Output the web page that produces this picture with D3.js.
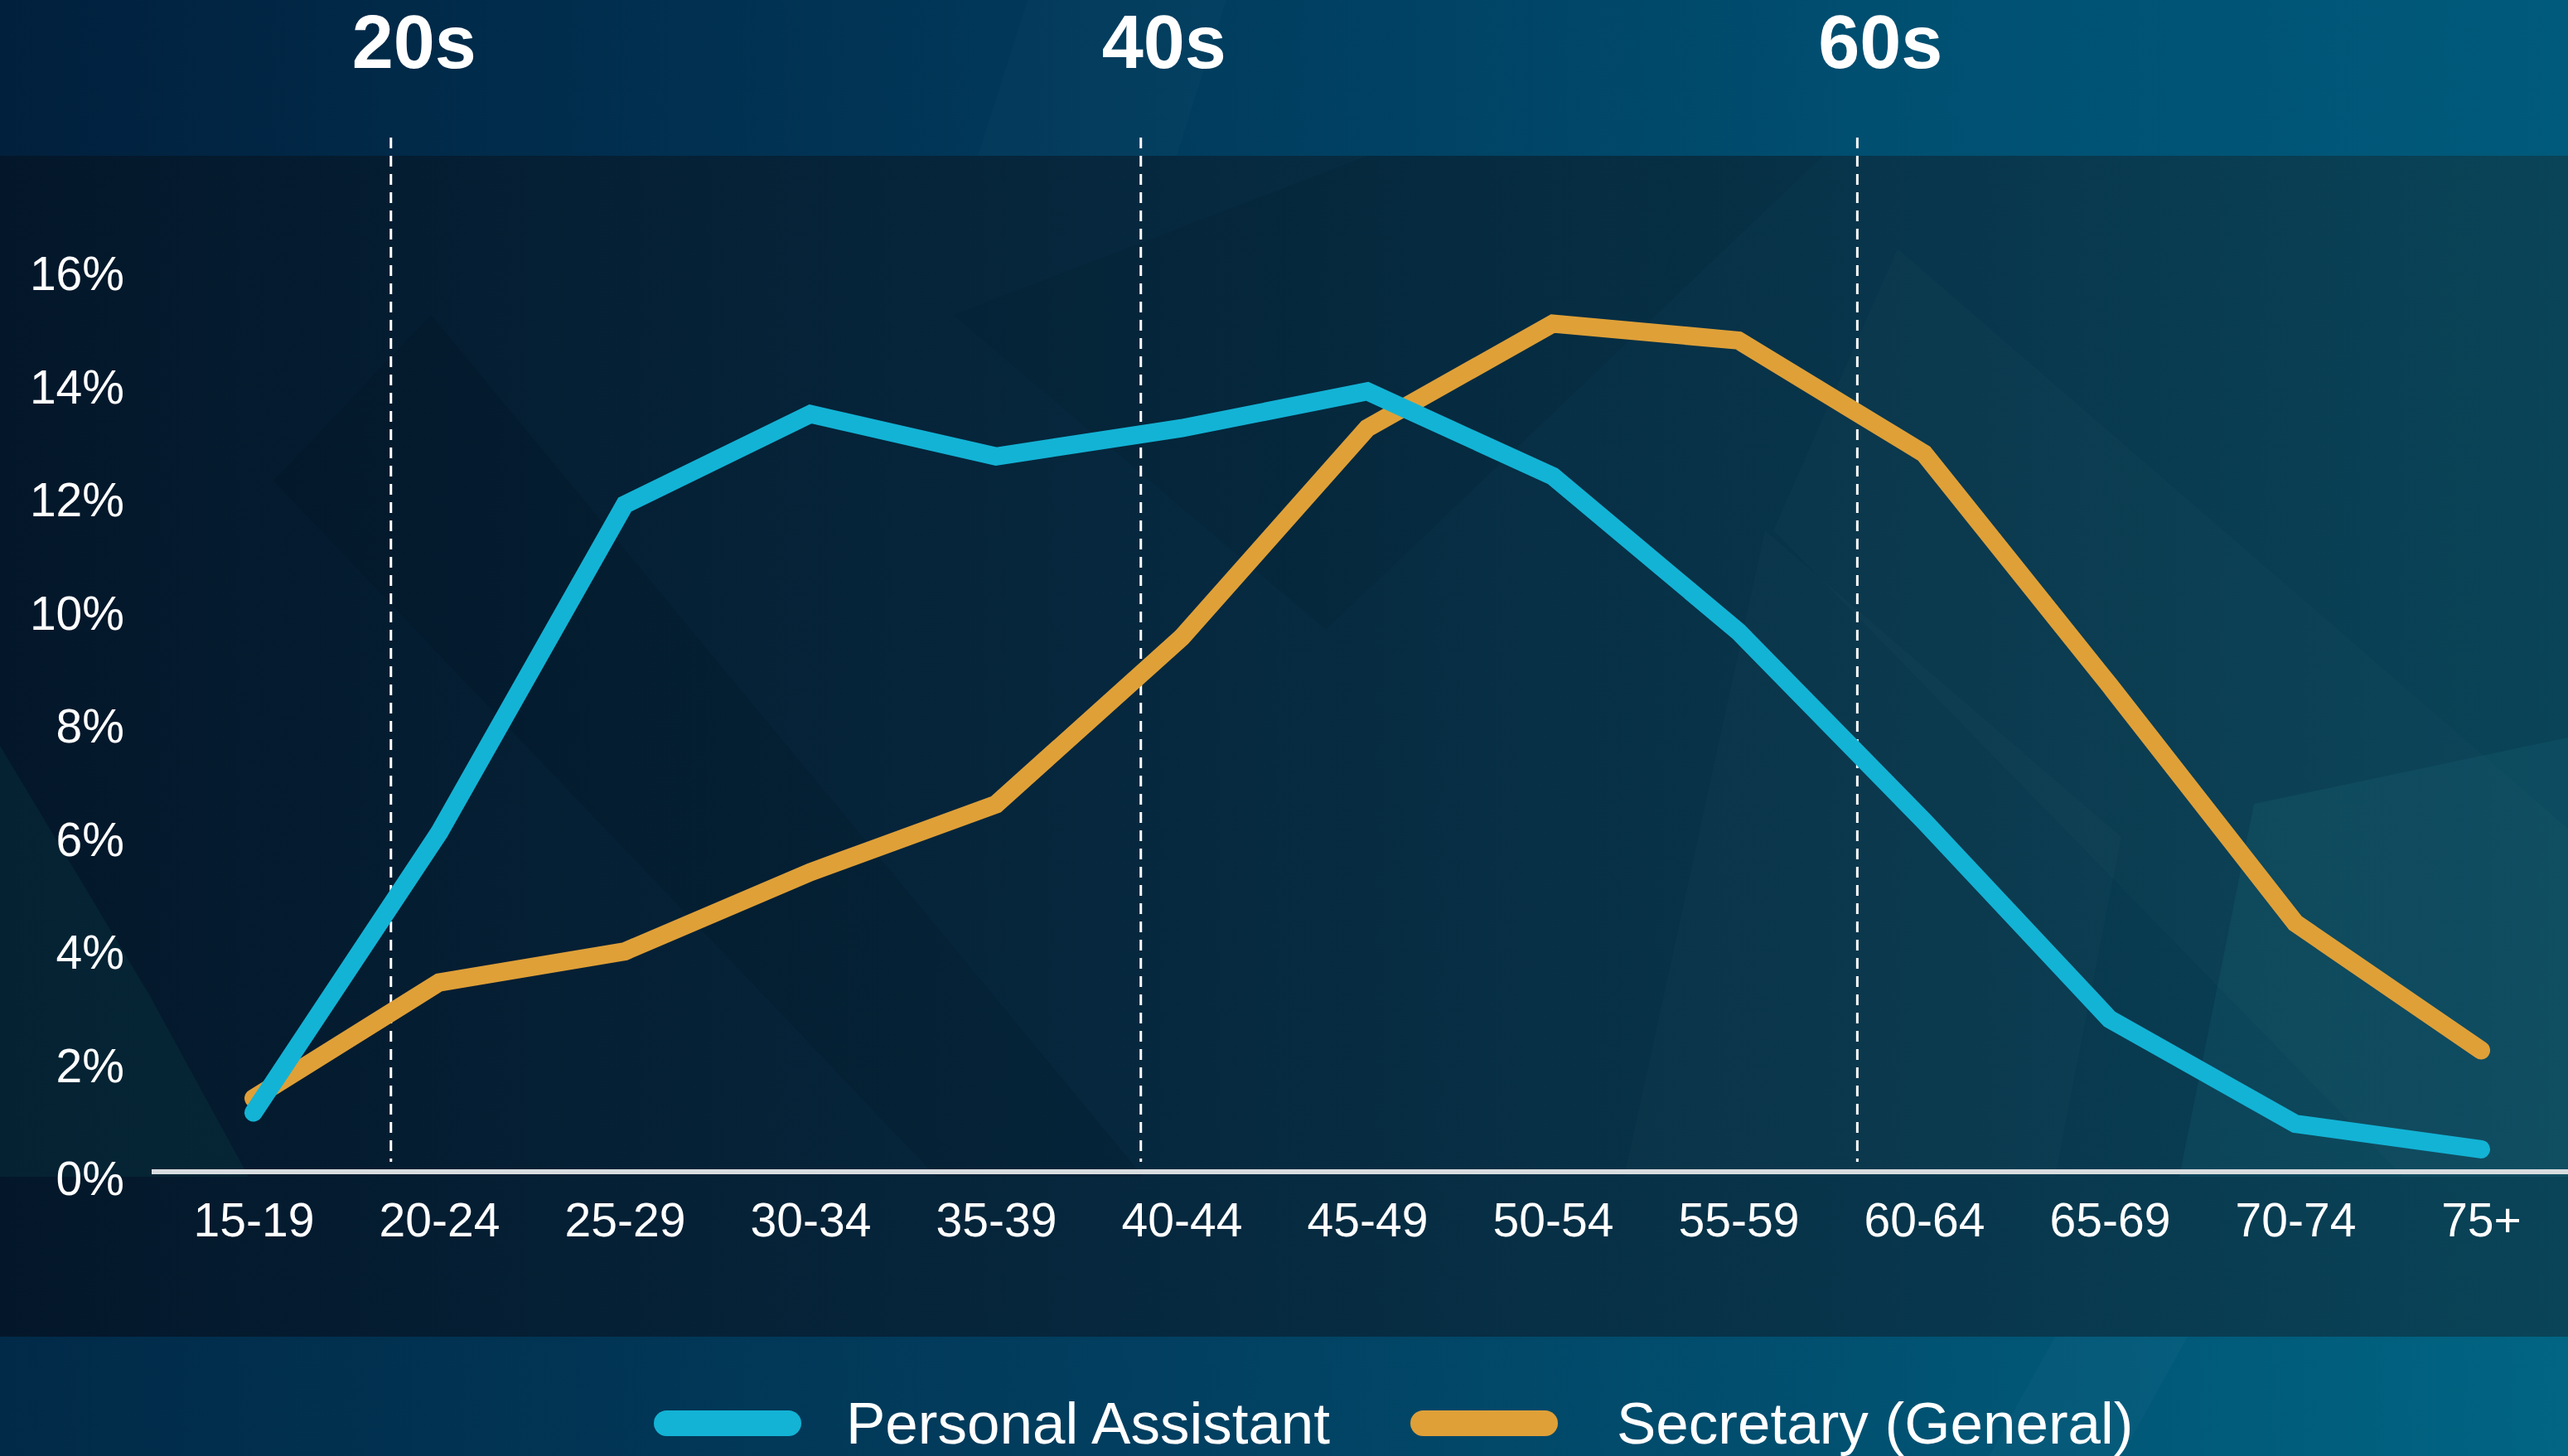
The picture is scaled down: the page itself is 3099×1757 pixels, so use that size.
<!DOCTYPE html>
<html>
<head>
<meta charset="utf-8">
<script src="https://cdn.jsdelivr.net/npm/d3@7"></script>
<style>
  html, body { margin: 0; padding: 0; background: #061a2c; overflow: hidden; }
  svg { display: block; font-family: "Liberation Sans", Arial, sans-serif; }
</style>
</head>
<body>
<svg id="chart"></svg>
<script>
// age groups on the x axis
const categories = ["15-19","20-24","25-29","30-34","35-39","40-44","45-49","50-54","55-59","60-64","65-69","70-74","75+"];
// share of workers in each age group (%)
const personalAssistant = [1.15, 6.1, 11.9, 13.5, 12.75, 13.25, 13.9, 12.4, 9.65, 6.3, 2.8, 0.95, 0.5];
const secretary = [1.4, 3.45, 4.0, 5.4, 6.6, 9.55, 13.25, 15.1, 14.8, 12.8, 8.7, 4.5, 2.25];
const seriesNames = ["Personal Assistant", "Secretary (General)"];
const yTicks = [0, 2, 4, 6, 8, 10, 12, 14, 16];
// decade markers, position given in category steps from the first group
const decadeLabels = ["20s", "40s", "60s"];
const decadePos = [0.74, 4.78, 8.64];

const w = 3099;
const h = 1757;
const colors = ["#13b3d5", "#dfa038"];

let svg = d3.select("#chart").attr("width", w).attr("height", h);
let defs = svg.append("defs");

// background gradients
let grad = (id, stops) => {
  let g = defs.append("linearGradient").attr("id", id)
    .attr("x1", "0%").attr("x2", "100%").attr("y1", "0%").attr("y2", "0%");
  stops.forEach(s => g.append("stop").attr("offset", s[0]).attr("stop-color", s[1]));
};
grad("gMid", [[0, "#04172a"], [0.4, "#06263c"], [0.75, "#08364c"], [1, "#0a4458"]]);
grad("gTop", [[0, "#01203d"], [0.4, "#01385a"], [0.75, "#005072"], [1, "#005a7b"]]);
grad("gBot", [[0, "#012a48"], [0.45, "#023f60"], [0.8, "#015676"], [1, "#016583"]]);

let bg = svg.append("g");
bg.append("rect").attr("width", w).attr("height", h).attr("fill", "url(#gMid)");

// faint diagonal shapes in the backdrop
let shapes = [
  {pts: [[330, 580], [520, 380], [1380, 1420], [1130, 1420]], fill: "#000", op: 0.08},
  {pts: [[0, 900], [180, 1200], [300, 1420], [0, 1420]], fill: "#0d5a5a", op: 0.18},
  {pts: [[2290, 300], [3099, 1000], [3099, 1420], [2900, 1420], [2140, 640]], fill: "#ffffff", op: 0.015},
  {pts: [[2720, 970], [3099, 890], [3099, 1420], [2630, 1420]], fill: "#2a8aa0", op: 0.12},
  {pts: [[1150, 380], [1650, 188], [2200, 188], [1600, 760]], fill: "#000", op: 0.05},
  {pts: [[2130, 640], [2560, 1010], [2480, 1420], [1960, 1420]], fill: "#ffffff", op: 0.015}
];
shapes.forEach(s => {
  bg.append("polygon").attr("points", s.pts.map(p => p.join(",")).join(" "))
    .attr("fill", s.fill).attr("opacity", s.op);
});

bg.append("rect").attr("width", w).attr("height", 188).attr("fill", "url(#gTop)");
bg.append("rect").attr("y", 1613).attr("width", w).attr("height", h - 1613).attr("fill", "url(#gBot)");
bg.append("polygon").attr("points", "1240,0 1480,0 1420,188 1180,188").attr("fill", "#ffffff").attr("opacity", 0.015);
bg.append("polygon").attr("points", "2480,1613 2640,1613 2560,1757 2400,1757").attr("fill", "#ffffff").attr("opacity", 0.025);

// scales
let xScale = d3.scalePoint().domain(categories).range([306, 2994]);
let step = xScale.step();
let yScale = d3.scaleLinear().domain([0, 16]).range([1421, 329]);

// decade dashed lines + labels
decadeLabels.forEach((lab, i) => {
  let xp = xScale(categories[0]) + decadePos[i] * step;
  svg.append("line")
    .attr("x1", xp).attr("x2", xp).attr("y1", 166).attr("y2", 1402)
    .attr("stroke", "#ffffff").attr("stroke-width", 3).attr("stroke-dasharray", "13,9");
  svg.append("text")
    .attr("x", xp + 28).attr("y", 82)
    .attr("text-anchor", "middle")
    .attr("font-size", 90).attr("font-weight", "bold")
    .attr("fill", "#ffffff")
    .text(lab);
});

// y axis
let yAxis = d3.axisLeft(yScale).tickValues(yTicks).tickFormat(d => d + "%").tickSize(0).tickPadding(0);
let gy = svg.append("g").attr("transform", "translate(150,0)").call(yAxis);
gy.select(".domain").remove();
gy.selectAll("text").attr("font-size", 57).attr("fill", "#ffffff")
  .attr("font-family", "Liberation Sans, Arial, sans-serif").attr("dy", "0.36em");

// x axis
let xAxis = d3.axisBottom(xScale).tickSize(0).tickPadding(38);
let gx = svg.append("g").attr("transform", "translate(0,1414)").call(xAxis);
gx.select(".domain").remove();
gx.selectAll("text").attr("font-size", 57).attr("fill", "#ffffff")
  .attr("font-family", "Liberation Sans, Arial, sans-serif");

// zero line
svg.append("line").attr("x1", 183).attr("x2", w).attr("y1", 1414).attr("y2", 1414)
  .attr("stroke", "#d8dcdf").attr("stroke-width", 6);

// series lines
let line = d3.line()
  .x((d, i) => xScale(categories[i]))
  .y(d => yScale(d));

[secretary, personalAssistant].forEach((vals, k) => {
  svg.append("path")
    .datum(vals)
    .attr("d", line)
    .attr("fill", "none")
    .attr("stroke", k === 0 ? colors[1] : colors[0])
    .attr("stroke-width", 22)
    .attr("stroke-linecap", "round")
    .attr("stroke-linejoin", "miter");
});

// legend
let legendX = [789, 1702];
let legendTextX = [1021, 1951];
seriesNames.forEach((name, i) => {
  svg.append("rect")
    .attr("x", legendX[i]).attr("y", 1702)
    .attr("width", 178).attr("height", 31).attr("rx", 15.5)
    .attr("fill", colors[i]);
  svg.append("text")
    .attr("x", legendTextX[i]).attr("y", 1742)
    .attr("font-size", 71).attr("fill", "#ffffff")
    .text(name);
});
</script>
</body>
</html>
